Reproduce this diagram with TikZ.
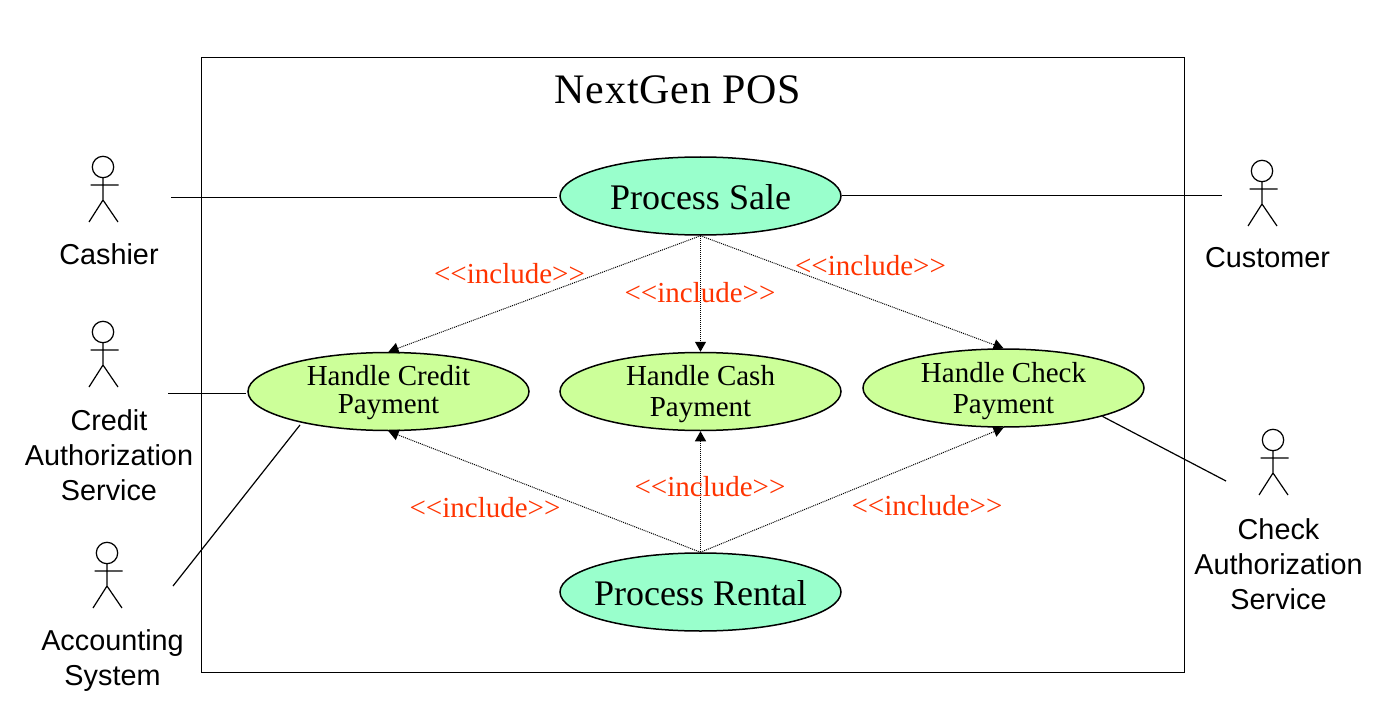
\documentclass[tikz,border=0pt]{standalone}
\usepackage{fontspec}
\setmainfont{Liberation Serif}
\setsansfont{Liberation Sans}
\usetikzlibrary{shapes.geometric,arrows.meta}
\definecolor{mainuc}{RGB}{153,255,204}
\definecolor{subuc}{RGB}{204,255,153}
\definecolor{incl}{RGB}{255,51,0}
\newcommand{\twolines}[4]{\raisebox{#1}[\height][\depth]{\begin{tabular}{@{}c@{}}#3\\[#2]#4\end{tabular}}}
\tikzset{
  x=1pt,y=-1pt,
  usecase/.style={draw=black,line width=1.5pt,ellipse,minimum width=281pt,minimum height=78pt,inner xsep=-45pt,inner ysep=-25pt},
  mainuse/.style={usecase,fill=mainuc,font=\fontsize{36}{40}\selectfont,text height=26pt,text depth=0pt},
  subuse/.style={usecase,fill=subuc,font=\fontsize{29}{31}\selectfont},
  includes/.style={draw=black,line width=1pt,densely dotted,-{Triangle[length=10pt,width=11pt]}},
  assoc/.style={draw=black,line width=1.2pt},
  inclabel/.style={text=incl,font=\fontsize{29}{30}\selectfont,inner sep=0pt},
  actorlabel/.style={font=\sffamily\fontsize{28.8}{35}\selectfont,align=center,inner sep=0pt},
  actor/.pic={
    \draw[line width=1.2pt,fill=white] (0,0) circle[radius=10.7pt];
    \draw[line width=1.2pt] (0,10.7) -- (0,33) (-12.5,18) -- (15.5,18) (-14,55) -- (0,33) -- (15,55);
  }
}
\begin{document}
\begin{tikzpicture}
\useasboundingbox (0,0) rectangle (1393,706);
\node[draw=black,line width=1.2pt,minimum width=983pt,minimum height=615pt,inner sep=0pt] (sys) at (693,365) {};
\node[font=\fontsize{42}{44}\selectfont,inner sep=0pt,text depth=0pt] (title) at (678,90) {\addfontfeatures{LetterSpace=2}NextGen POS};

\node[mainuse] (ps) at (700.5,196) {Process Sale};
\node[mainuse] (pr) at (700.5,592) {Process Rental};
\node[subuse] (hcr) at (388.5,391.5) {\twolines{-1.3pt}{-3pt}{Handle Credit}{Payment}};
\node[subuse] (hca) at (700.5,391.5) {\twolines{-3.3pt}{0pt}{Handle Cash}{Payment}};
\node[subuse] (hch) at (1003.5,388) {\twolines{-3.3pt}{0pt}{Handle Check}{Payment}};

\pic at (103,167) {actor};
\pic at (103,332) {actor};
\pic at (107,553) {actor};
\pic at (1262,171) {actor};
\pic at (1273,440) {actor};

\node[actorlabel] (l1) at (109,254) {Cashier};
\node[actorlabel] (l2) at (109,455.7) {Credit\\Authorization\\Service};
\node[actorlabel] (l3) at (112.5,661) {Accounting\\System};
\node[actorlabel] (l4) at (1267.5,258) {Customer};
\node[actorlabel] (l5) at (1278.5,564) {Check\\Authorization\\Service};

\coordinate (a1) at (171,197.5);
\coordinate (a1e) at (557,197.5);
\coordinate (a2) at (168,393.5);
\coordinate (a2e) at (246,393.5);
\coordinate (a3) at (173,586);
\coordinate (a3e) at (300,425);
\coordinate (a4) at (1222,195.5);
\coordinate (a5) at (1226,481);
\draw[assoc] (a1) -- (a1e);
\draw[assoc] (a2) -- (a2e);
\draw[assoc] (a3) -- (a3e);
\draw[assoc] (ps.east) ++(0,-0.5) -- (a4);
\draw[assoc] (hch.-16) -- (a5);

\draw[includes] (ps.south) -- (hcr.north);
\draw[includes] (ps.south) -- (hca.north);
\draw[includes] (ps.south) -- (hch.north);
\draw[includes] (pr.north) -- (hcr.south);
\draw[includes] (pr.north) -- (hca.south);
\draw[includes] (pr.north) -- (hch.south);

\node[inclabel] (i1) at (509.5,274) {<{}<include>{}>};
\node[inclabel] (i2) at (700,292.5) {<{}<include>{}>};
\node[inclabel] (i3) at (870.5,265.5) {<{}<include>{}>};
\node[inclabel] (i4) at (485,508) {<{}<include>{}>};
\node[inclabel] (i5) at (710,487) {<{}<include>{}>};
\node[inclabel] (i6) at (927,506) {<{}<include>{}>};
\end{tikzpicture}
\end{document}
